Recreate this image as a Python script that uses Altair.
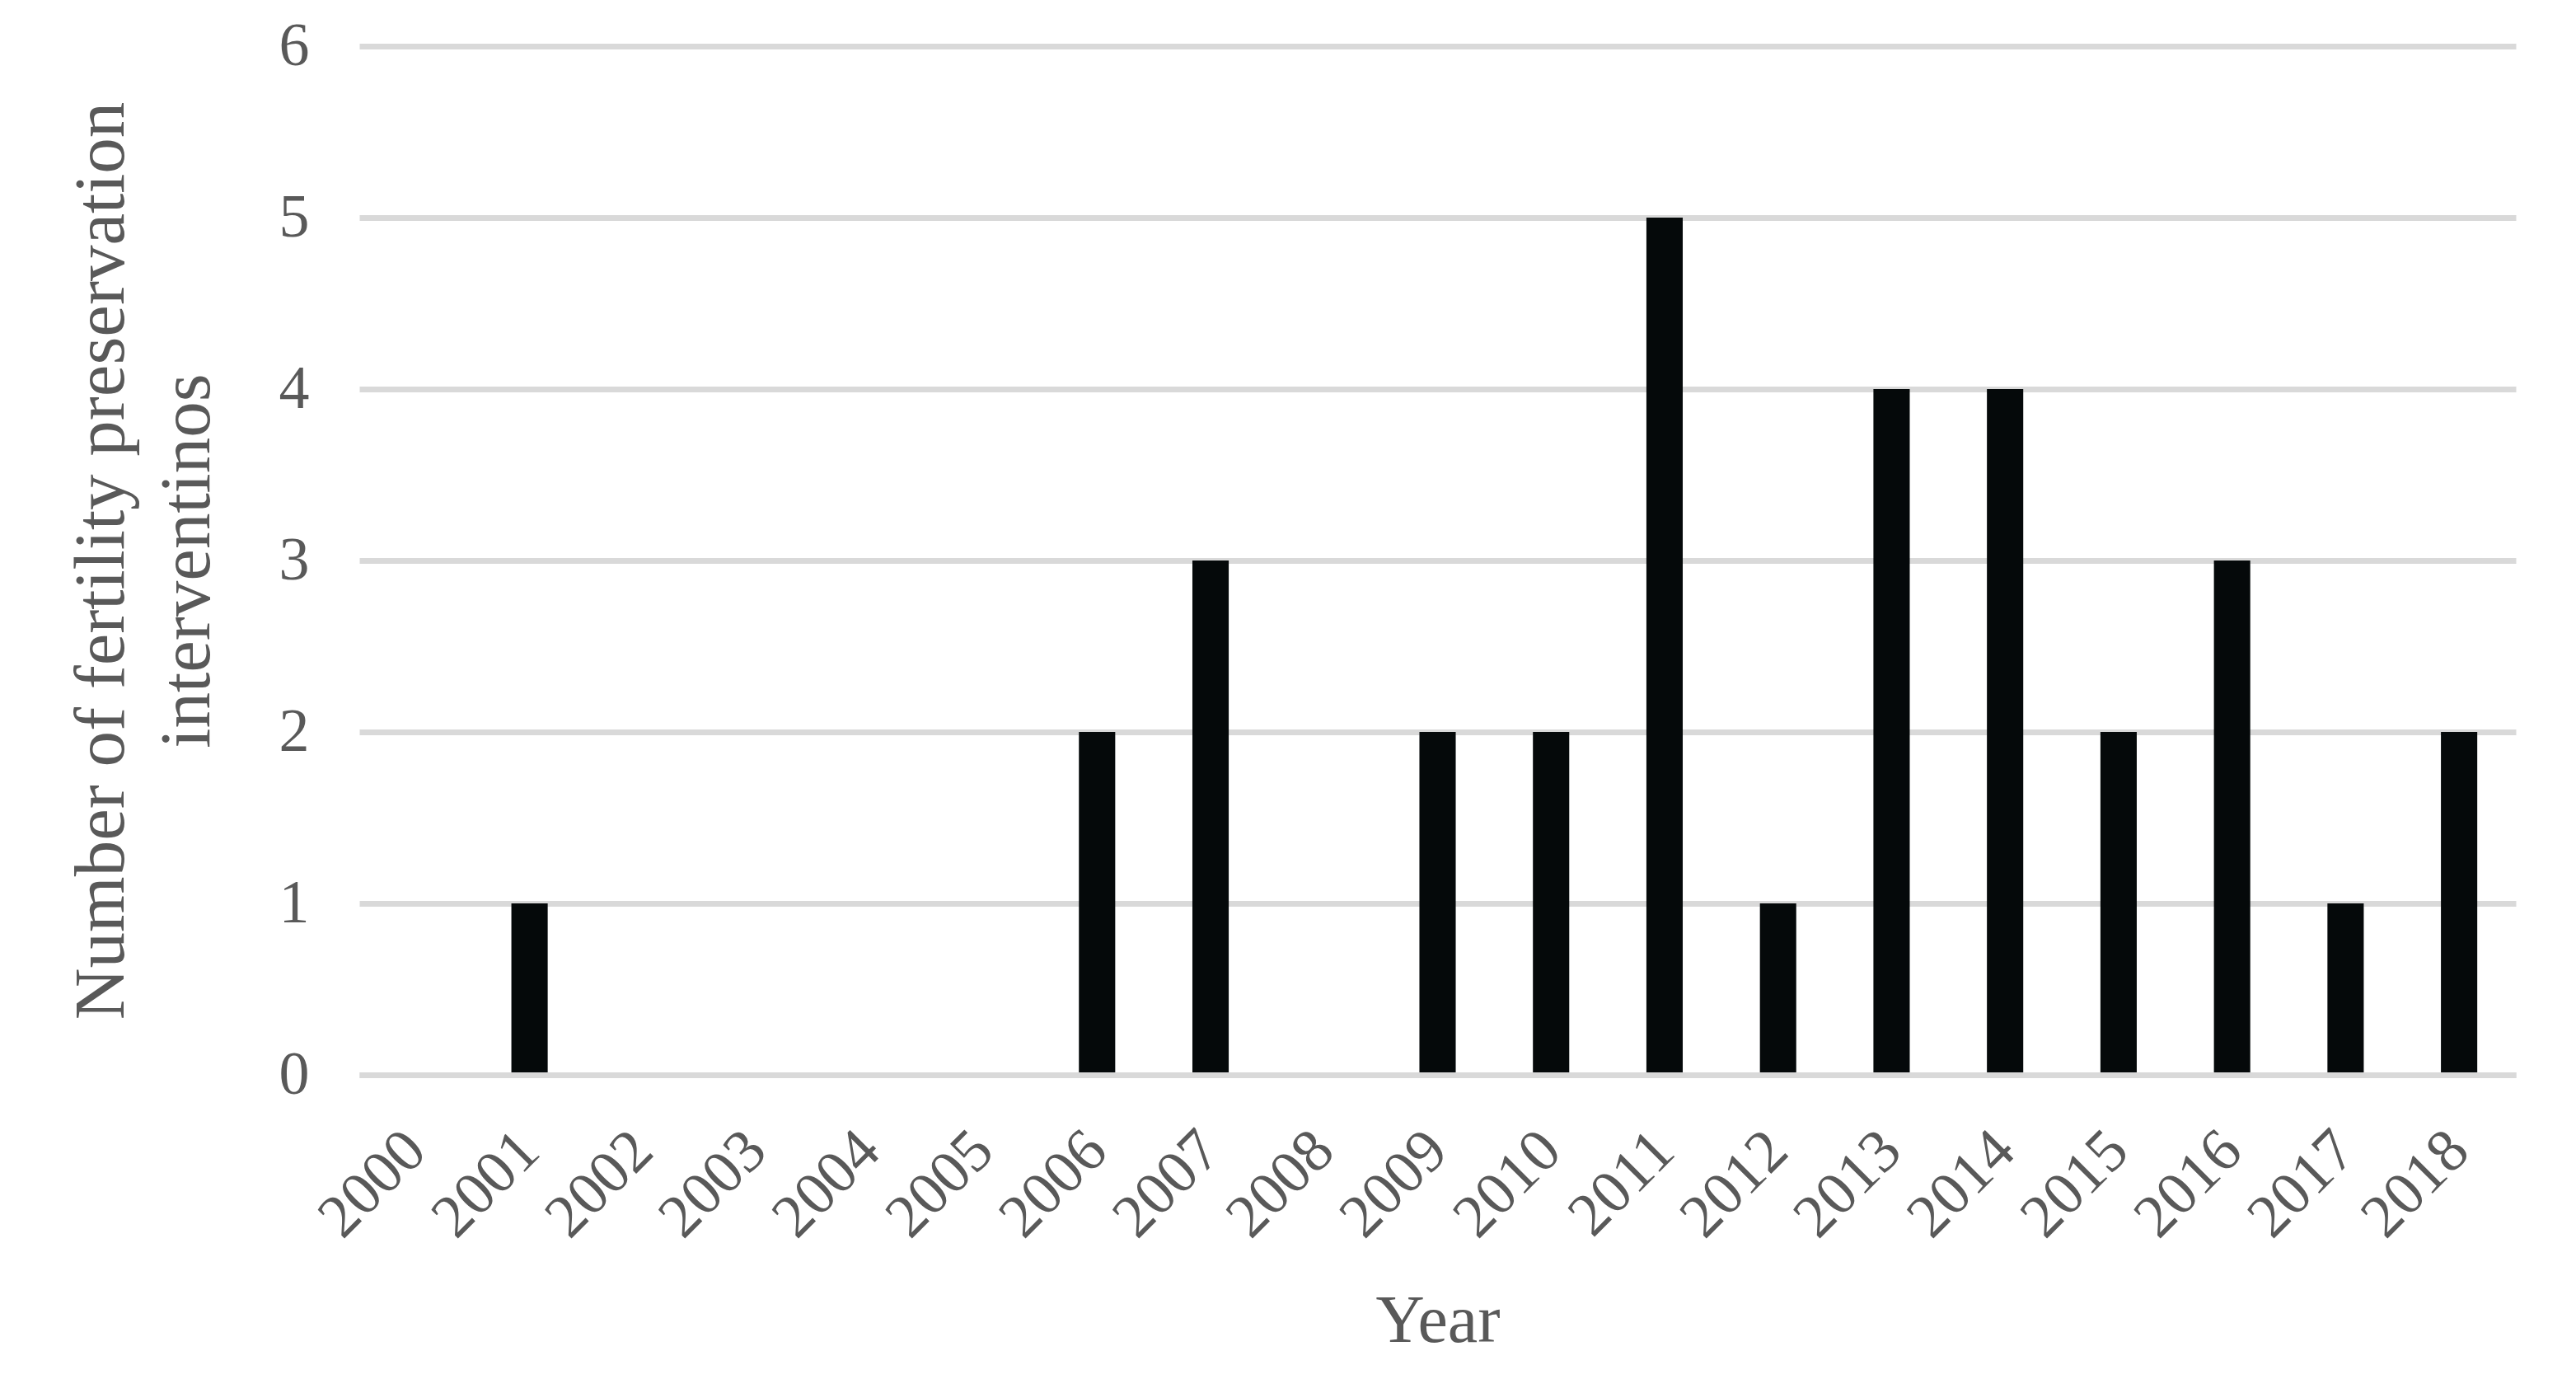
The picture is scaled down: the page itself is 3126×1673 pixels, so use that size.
import altair as alt
import pandas as pd

years = ["2000", "2001", "2002", "2003", "2004", "2005", "2006", "2007", "2008", "2009",
         "2010", "2011", "2012", "2013", "2014", "2015", "2016", "2017", "2018"]
counts = [0, 1, 0, 0, 0, 0, 2, 3, 0, 2, 2, 5, 1, 4, 4, 2, 3, 1, 2]
y_ticks = [0, 1, 2, 3, 4, 5, 6]

df = pd.DataFrame({"year": years, "count": counts})

FONT = "Liberation Serif"
TXT = "#595959"
GRID = "#D9D9D9"

chart = alt.Chart(df).mark_bar(color="#05090A").encode(
    x=alt.X(
        "year:N",
        sort=None,
        scale=alt.Scale(paddingInner=0.68, paddingOuter=0.34),
        axis=alt.Axis(
            title="Year",
            labelAngle=-45,
            labelAlign="right",
            labelBaseline="middle",
            labelPadding=80,
            labelFont=FONT,
            labelFontSize=74,
            labelColor=TXT,
            labelOverlap=False,
            ticks=False,
            domain=True,
            domainColor=GRID,
            domainWidth=7,
            grid=False,
            titleFont=FONT,
            titleFontSize=82,
            titleFontWeight="normal",
            titleColor=TXT,
            titleY=323,
            titleBaseline="alphabetic",
            zindex=1,
        ),
    ),
    y=alt.Y(
        "count:Q",
        scale=alt.Scale(domain=[0, 6], nice=False),
        axis=alt.Axis(
            title=["Number of fertility preservation", "interventinos"],
            values=y_ticks,
            labelFont=FONT,
            labelFontSize=74,
            labelColor=TXT,
            labelPadding=61,
            labelAlign="right",
            labelBaseline="middle",
            ticks=False,
            domain=False,
            grid=True,
            gridColor=GRID,
            gridWidth=7,
            titleFont=FONT,
            titleFontSize=87,
            titleFontWeight="normal",
            titleColor=TXT,
            titleLineHeight=104,
            titleAngle=270,
            titleAlign="center",
            titleBaseline="alphabetic",
            titleX=-287,
            titleY=624,
            zindex=0,
        ),
    ),
).properties(
    width=2617,
    height=1248,
    autosize=alt.AutoSizeParams(type="none"),
    padding={"left": 428, "top": 48, "right": 60, "bottom": 360},
    background="white",
).configure_view(stroke=None)

chart.save("out.html", embed_options={"renderer": "svg", "actions": False})
